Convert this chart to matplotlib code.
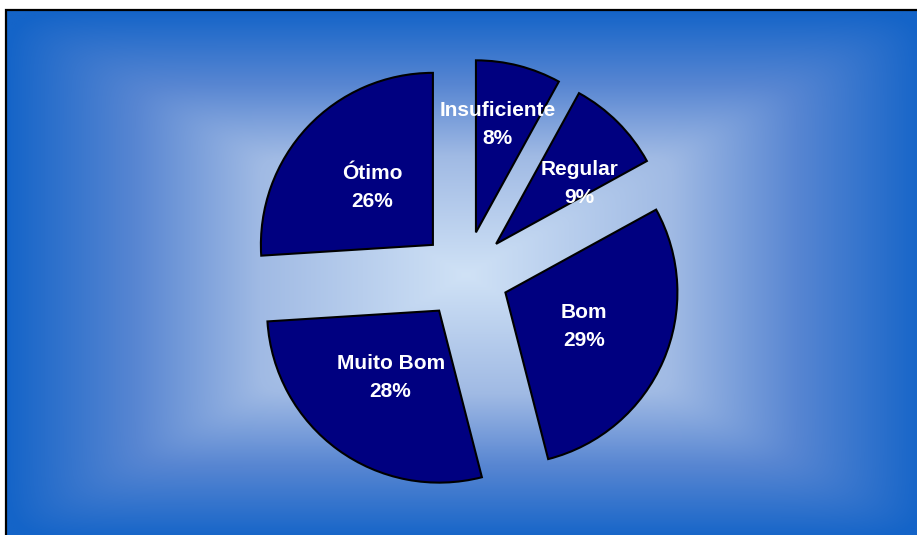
import numpy as np
import matplotlib
matplotlib.use('Agg')
import matplotlib.pyplot as plt
from matplotlib.patches import Rectangle

# data
categories = ['Insuficiente', 'Regular', 'Bom', 'Muito Bom', 'Ótimo']
values = [8, 9, 29, 28, 26]
pct_labels = ['8%', '9%', '29%', '28%', '26%']

W, H = 917, 535
fig = plt.figure(figsize=(W / 100, H / 100), dpi=100)
fig.patch.set_facecolor('white')
ax = fig.add_axes([0, 0, 1, 1])

# plot area (pixel coords, y up)
x0, x1 = 6, 926
y0, y1 = H - 540, H - 10
cx, cy = (x0 + x1) / 2, (y0 + y1) / 2

# rectangular "from center" gradient
gx = np.linspace(x0, x1, 600)
gy = np.linspace(y0, y1, 400)
XX, YY = np.meshgrid(gx, gy)
u = np.abs(XX - cx) / ((x1 - x0) / 2)
v = np.abs(YY - cy) / ((y1 - y0) / 2)
p = 18
t = np.clip((u ** p + v ** p) ** (1 / p), 0, 1)
stops = [0.0, 0.45, 0.72, 1.0]
cols = np.array([[208, 226, 246], [160, 186, 228], [88, 134, 210], [20, 100, 200]]) / 255
img = np.dstack([np.interp(t, stops, cols[:, i]) for i in range(3)])
ax.imshow(img, extent=(x0, x1, y0, y1), origin='lower', interpolation='bilinear', zorder=0)
ax.add_patch(Rectangle((x0, y0), x1 - x0, y1 - y0, fill=False, edgecolor='black',
                       linewidth=1.6, zorder=1))

radius = 172
center = (465, H - 275)
explode_frac = 0.256
wedges, _ = ax.pie(values, startangle=90, counterclock=False, radius=radius,
                   center=center, explode=[explode_frac * radius] * len(values),
                   colors=['#000080'] * len(values),
                   wedgeprops=dict(edgecolor='black', linewidth=1.5))

# label distance (fraction of radius) and angle shift from each wedge's apex
label_dist = [0.64, 0.6, 0.5, 0.48, 0.485]
label_turn = [3, -9, 0, 0, 0]
for w, name, pct, ld, dt in zip(wedges, categories, pct_labels, label_dist, label_turn):
    ang = np.deg2rad((w.theta1 + w.theta2) / 2 + dt)
    xt = w.center[0] + ld * radius * np.cos(ang)
    yt = w.center[1] + ld * radius * np.sin(ang)
    ax.text(xt, yt, f'{name}\n{pct}', ha='center', va='center', color='white',
            fontsize=15, fontweight='bold', family='Liberation Sans',
            linespacing=1.6, zorder=5)

ax.set_xlim(0, W)
ax.set_ylim(0, H)
ax.set_aspect('equal')
ax.axis('off')

fig.savefig('out.png', dpi=100, facecolor='white')
